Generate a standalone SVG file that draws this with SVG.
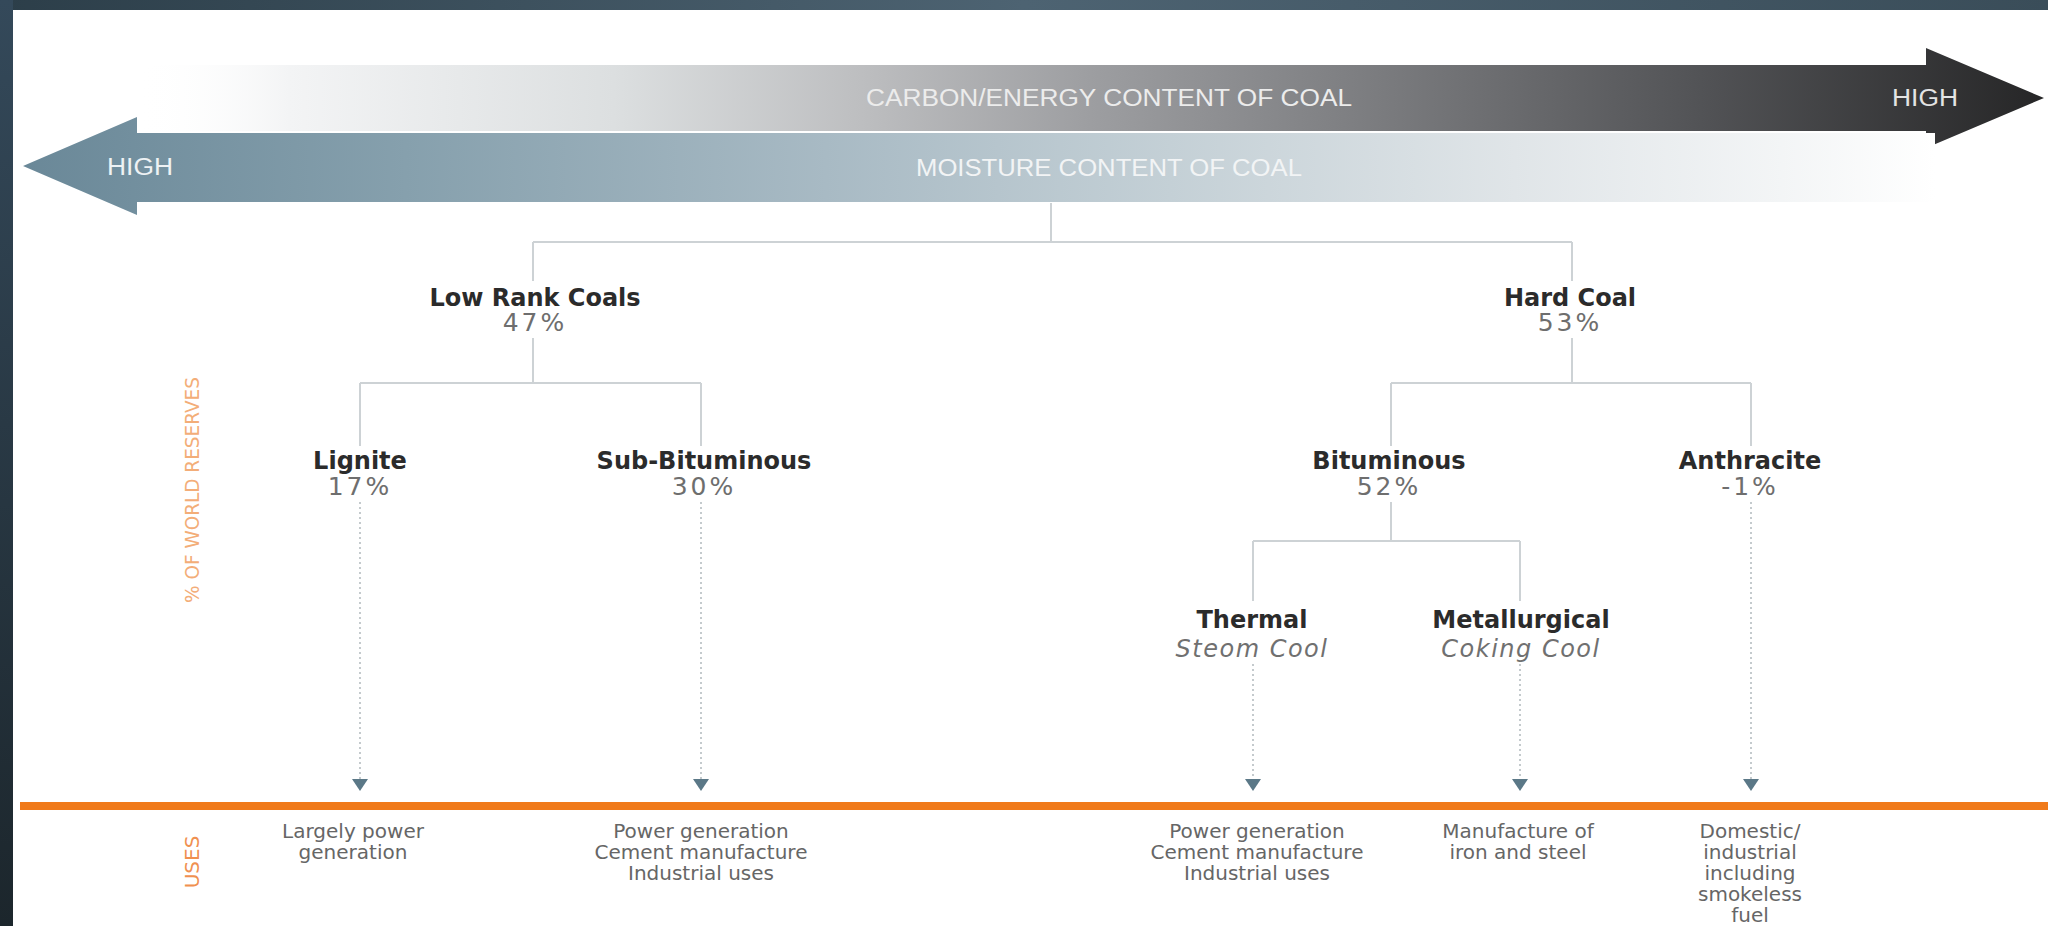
<svg xmlns="http://www.w3.org/2000/svg" width="2048" height="926" viewBox="0 0 2048 926">
<defs>
<linearGradient id="gTop" x1="0" y1="0" x2="1" y2="0">
<stop offset="0" stop-color="#2c3e49"/><stop offset="0.5" stop-color="#4d6372"/><stop offset="1" stop-color="#3a4d59"/>
</linearGradient>
<linearGradient id="gLeft" x1="0" y1="0" x2="0" y2="1">
<stop offset="0" stop-color="#34495a"/><stop offset="1" stop-color="#1c262c"/>
</linearGradient>
<linearGradient id="gCarbon" gradientUnits="userSpaceOnUse" x1="137" y1="0" x2="2044" y2="0">
<stop offset="0" stop-color="#ffffff" stop-opacity="0"/>
<stop offset="0.08" stop-color="#f3f4f5"/>
<stop offset="0.25" stop-color="#dcdfe0"/>
<stop offset="0.38" stop-color="#bdbec0"/>
<stop offset="0.5" stop-color="#9d9ea1"/>
<stop offset="0.65" stop-color="#7b7c7f"/>
<stop offset="0.82" stop-color="#525356"/>
<stop offset="1" stop-color="#262627"/>
</linearGradient>
<linearGradient id="gMoist" gradientUnits="userSpaceOnUse" x1="23" y1="0" x2="1935" y2="0">
<stop offset="0" stop-color="#6a8898"/>
<stop offset="0.2" stop-color="#86a0ad"/>
<stop offset="0.42" stop-color="#a8bac4"/>
<stop offset="0.6" stop-color="#c4d0d6"/>
<stop offset="0.78" stop-color="#e0e5e8"/>
<stop offset="0.92" stop-color="#f3f5f6"/>
<stop offset="1" stop-color="#ffffff"/>
</linearGradient>
<marker id="tri" viewBox="0 0 12 16" refX="0" refY="8" markerWidth="12" markerHeight="16" markerUnits="userSpaceOnUse" orient="auto">
<path d="M0,0 L12,8 L0,16 Z" fill="#5b7887"/>
</marker>
<style>
.ln{stroke:#cdd2d5;stroke-width:2;fill:none}
.dot{stroke:#c4cacd;stroke-width:2;stroke-dasharray:2 3;fill:none}
.b{font-family:"DejaVu Sans",sans-serif;font-weight:bold;font-size:24px;fill:#2b2b2b;text-anchor:middle}
.p{font-family:"DejaVu Sans",sans-serif;font-size:25px;fill:#6e6e6e;text-anchor:middle;letter-spacing:3px}
.i{font-family:"DejaVu Sans",sans-serif;font-style:italic;font-size:24px;fill:#707070;text-anchor:middle;letter-spacing:1.5px}
.u{font-family:"DejaVu Sans",sans-serif;font-size:20px;fill:#666666;text-anchor:middle}
.ax{font-family:"Liberation Sans",Arial,sans-serif;font-size:23px;text-anchor:middle}
</style>
</defs>
<rect width="2048" height="926" fill="#ffffff"/>
<rect x="0" y="0" width="2048" height="10" fill="url(#gTop)"/>
<rect x="0" y="0" width="13" height="926" fill="url(#gLeft)"/>

<g id="carbon-arrow">
<path d="M137,65 L1926,65 L1926,48 L2044,98 L1926,148 L1926,131 L137,131 Z" fill="url(#gCarbon)"/>
<text class="ax" x="1109" y="106" fill="#ececec" textLength="486" lengthAdjust="spacingAndGlyphs">CARBON/ENERGY CONTENT OF COAL</text>
<text class="ax" x="1925" y="106" fill="#e4e4e4" textLength="66" lengthAdjust="spacingAndGlyphs">HIGH</text>
</g>
<g id="moisture-arrow">
<path d="M23,166 L137,117 L137,133 L1935,133 L1935,202 L137,202 L137,215 Z" fill="url(#gMoist)"/>
<text class="ax" x="1109" y="176" fill="#f2f4f5" textLength="386" lengthAdjust="spacingAndGlyphs">MOISTURE CONTENT OF COAL</text>
<text class="ax" x="140" y="175" fill="#eef2f4" textLength="66" lengthAdjust="spacingAndGlyphs">HIGH</text>
</g>

<g id="connectors">
<path class="ln" d="M1051,203 V242 M533,242 H1572 M533,242 V281 M1572,242 V281"/>
<path class="ln" d="M533,338 V383 M360,383 H701 M360,383 V446 M701,383 V446"/>
<path class="ln" d="M1572,338 V383 M1391,383 H1751 M1391,383 V446 M1751,383 V446"/>
<path class="ln" d="M1391,502 V541 M1253,541 H1520 M1253,541 V601 M1520,541 V601"/>
<path class="dot" d="M360,502 V779" marker-end="url(#tri)"/>
<path class="dot" d="M701,502 V779" marker-end="url(#tri)"/>
<path class="dot" d="M1253,664 V779" marker-end="url(#tri)"/>
<path class="dot" d="M1520,664 V779" marker-end="url(#tri)"/>
<path class="dot" d="M1751,502 V779" marker-end="url(#tri)"/>
</g>

<rect id="uses-line" x="20" y="802" width="2028" height="8" fill="#f07a1a"/>

<text x="0" y="0" transform="translate(199,490) rotate(-90)" font-family="DejaVu Sans, sans-serif" font-size="20" fill="#f3ad78" text-anchor="middle" textLength="226" lengthAdjust="spacingAndGlyphs">% OF WORLD RESERVES</text>
<text x="0" y="0" transform="translate(199,862) rotate(-90)" font-family="DejaVu Sans, sans-serif" font-size="20" fill="#f09050" text-anchor="middle">USES</text>

<g id="low-rank"><text class="b" x="535" y="306">Low Rank Coals</text><text class="p" x="535" y="331">47%</text></g>
<g id="hard-coal"><text class="b" x="1570" y="306">Hard Coal</text><text class="p" x="1570" y="331">53%</text></g>
<g id="lignite"><text class="b" x="360" y="469">Lignite</text><text class="p" x="360" y="495">17%</text></g>
<g id="sub-bituminous"><text class="b" x="704" y="469">Sub-Bituminous</text><text class="p" x="704" y="495">30%</text></g>
<g id="bituminous"><text class="b" x="1389" y="469">Bituminous</text><text class="p" x="1389" y="495">52%</text></g>
<g id="anthracite"><text class="b" x="1750" y="469">Anthracite</text><text class="p" x="1750" y="495">-1%</text></g>
<g id="thermal"><text class="b" x="1252" y="628">Thermal</text><text class="i" x="1252" y="657">Steom Cool</text></g>
<g id="metallurgical"><text class="b" x="1521" y="628">Metallurgical</text><text class="i" x="1521" y="657">Coking Cool</text></g>

<g id="use-lignite"><text class="u" x="353" y="838">Largely power</text><text class="u" x="353" y="859">generation</text></g>
<g id="use-sub-bituminous"><text class="u" x="701" y="838">Power generation</text><text class="u" x="701" y="859">Cement manufacture</text><text class="u" x="701" y="880">Industrial uses</text></g>
<g id="use-thermal"><text class="u" x="1257" y="838">Power generation</text><text class="u" x="1257" y="859">Cement manufacture</text><text class="u" x="1257" y="880">Industrial uses</text></g>
<g id="use-metallurgical"><text class="u" x="1518" y="838">Manufacture of</text><text class="u" x="1518" y="859">iron and steel</text></g>
<g id="use-anthracite"><text class="u" x="1750" y="838">Domestic/</text><text class="u" x="1750" y="859">industrial</text><text class="u" x="1750" y="880">including</text><text class="u" x="1750" y="901">smokeless</text><text class="u" x="1750" y="922">fuel</text></g>
</svg>
